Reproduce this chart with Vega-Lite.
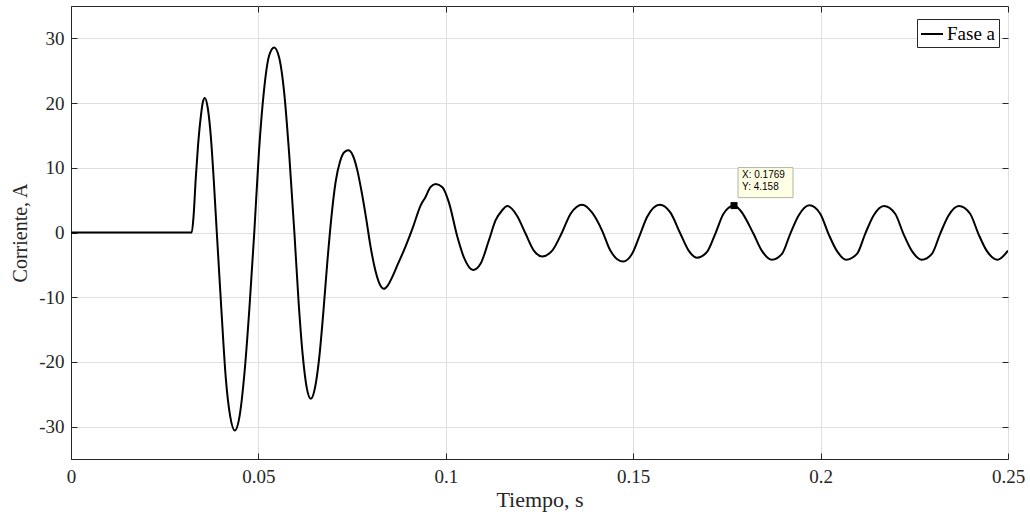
{
  "$schema": "https://vega.github.io/schema/vega-lite/v6.json",
  "width": 937,
  "height": 453,
  "autosize": {"type": "none"},
  "padding": {"left": 71, "top": 6, "right": 22, "bottom": 57},
  "background": "white",
  "config": {
    "font": "Liberation Serif",
    "view": {"stroke": "#262626", "strokeWidth": 1},
    "axis": {
      "domainColor": "#262626",
      "tickColor": "#262626",
      "labelColor": "#262626",
      "titleColor": "#262626",
      "gridColor": "#dfdfdf",
      "gridOpacity": 1,
      "labelFont": "Liberation Serif",
      "titleFont": "Liberation Serif",
      "labelFontSize": 19,
      "titleFontSize": 20,
      "titleFontWeight": "normal",
      "tickSize": -6
    }
  },
  "datasets": {
    "wave": [
      {"t": 0, "i": 0}, {"t": 0.0322, "i": 0}, {"t": 0.0327, "i": 2.5}, {"t": 0.0333, "i": 8.5},
      {"t": 0.0339, "i": 13.5}, {"t": 0.03465, "i": 18.0}, {"t": 0.0352, "i": 20.2}, {"t": 0.0357, "i": 20.8},
      {"t": 0.0365, "i": 19.2}, {"t": 0.0373, "i": 14.9}, {"t": 0.0381, "i": 8.0}, {"t": 0.0389, "i": 0},
      {"t": 0.0401, "i": -11.7}, {"t": 0.0413, "i": -22.5}, {"t": 0.0425, "i": -28.5}, {"t": 0.0437, "i": -30.6},
      {"t": 0.045, "i": -28.3}, {"t": 0.0463, "i": -21.6}, {"t": 0.0476, "i": -11.7}, {"t": 0.0489, "i": 0},
      {"t": 0.05015, "i": 12.5}, {"t": 0.0515, "i": 22.0}, {"t": 0.05285, "i": 27.3}, {"t": 0.0542, "i": 28.6},
      {"t": 0.05555, "i": 27.0}, {"t": 0.0569, "i": 21.5}, {"t": 0.05825, "i": 11.8}, {"t": 0.0596, "i": 0},
      {"t": 0.0607, "i": -10.5}, {"t": 0.0618, "i": -18.8}, {"t": 0.0629, "i": -24.0}, {"t": 0.064, "i": -25.7},
      {"t": 0.0651, "i": -24.0}, {"t": 0.0662, "i": -19.5}, {"t": 0.0673, "i": -12.5}, {"t": 0.0684, "i": -4.5},
      {"t": 0.0695, "i": 2.5}, {"t": 0.0706, "i": 7.8}, {"t": 0.0718, "i": 11.0}, {"t": 0.0729, "i": 12.4},
      {"t": 0.074, "i": 12.7}, {"t": 0.0752, "i": 11.9}, {"t": 0.0764, "i": 9.6}, {"t": 0.0776, "i": 6.1},
      {"t": 0.0788, "i": 2.0}, {"t": 0.0799, "i": -2.1}, {"t": 0.0811, "i": -5.6}, {"t": 0.0823, "i": -7.9},
      {"t": 0.0835, "i": -8.7},
      {"t": 0.0845, "i": -8.2}, {"t": 0.0857, "i": -6.9}, {"t": 0.0872, "i": -4.9}, {"t": 0.0888, "i": -2.8},
      {"t": 0.0911, "i": 0.6}, {"t": 0.0933, "i": 4.2}, {"t": 0.0946, "i": 5.5}, {"t": 0.0959, "i": 7.0},
      {"t": 0.0973, "i": 7.5}, {"t": 0.0991, "i": 7.0}, {"t": 0.1008, "i": 4.7}, {"t": 0.1031, "i": -0.7},
      {"t": 0.1048, "i": -3.8}, {"t": 0.1073, "i": -5.8}, {"t": 0.1093, "i": -4.8}, {"t": 0.1115, "i": -1.2},
      {"t": 0.1133, "i": 1.9}, {"t": 0.115, "i": 3.4}, {"t": 0.1164, "i": 4.1}, {"t": 0.119, "i": 2.6},
      {"t": 0.1213, "i": -0.2}, {"t": 0.1235, "i": -2.8}, {"t": 0.1257, "i": -3.7}, {"t": 0.1284, "i": -2.8},
      {"t": 0.131, "i": 0.0}, {"t": 0.1333, "i": 2.9}, {"t": 0.1364, "i": 4.3}, {"t": 0.139, "i": 3.1},
      {"t": 0.1417, "i": 0.3}, {"t": 0.1439, "i": -2.8}, {"t": 0.1473, "i": -4.5}, {"t": 0.1497, "i": -3.3},
      {"t": 0.1519, "i": -0.2}, {"t": 0.1537, "i": 2.4}, {"t": 0.1571, "i": 4.3}, {"t": 0.1599, "i": 3.1},
      {"t": 0.1626, "i": -0.2}, {"t": 0.1648, "i": -2.8}, {"t": 0.167, "i": -3.9}, {"t": 0.1697, "i": -3.0},
      {"t": 0.1719, "i": -0.2}, {"t": 0.1741, "i": 2.9}, {"t": 0.1769, "i": 4.158}, {"t": 0.1786, "i": 3.4},
      {"t": 0.1821, "i": -0.2}, {"t": 0.1843, "i": -2.8}, {"t": 0.187, "i": -4.2}, {"t": 0.1897, "i": -3.3},
      {"t": 0.1919, "i": -0.2}, {"t": 0.1941, "i": 2.6}, {"t": 0.197, "i": 4.2}, {"t": 0.1999, "i": 2.9},
      {"t": 0.2021, "i": -0.2}, {"t": 0.2043, "i": -2.8}, {"t": 0.2068, "i": -4.2}, {"t": 0.2097, "i": -3.3},
      {"t": 0.2119, "i": -0.2}, {"t": 0.2141, "i": 2.6}, {"t": 0.2169, "i": 4.1}, {"t": 0.2199, "i": 2.9},
      {"t": 0.2221, "i": -0.2}, {"t": 0.2243, "i": -2.8}, {"t": 0.227, "i": -4.2}, {"t": 0.2297, "i": -3.3},
      {"t": 0.2319, "i": -0.2}, {"t": 0.2341, "i": 2.6}, {"t": 0.2369, "i": 4.1}, {"t": 0.2399, "i": 2.9},
      {"t": 0.2421, "i": -0.2}, {"t": 0.2443, "i": -2.8}, {"t": 0.2472, "i": -4.2}, {"t": 0.25, "i": -2.8}
    ],
    "tip": [
      {"t": 0.1769, "i": 4.158, "label": "X: 0.1769\nY: 4.158"}
    ]
  },
  "layer": [
    {
      "data": {"name": "wave"},
      "mark": {"type": "line", "interpolate": "monotone", "strokeWidth": 2, "clip": true},
      "encoding": {
        "x": {
          "field": "t", "type": "quantitative",
          "scale": {"domain": [0, 0.25], "nice": false, "zero": false},
          "axis": {
            "title": "Tiempo, s",
            "titleFontSize": 22,
            "values": [0, 0.05, 0.1, 0.15, 0.2, 0.25],
            "labelExpr": "'' + datum.value",
            "labelFlush": false,
            "labelOverlap": false,
            "grid": true,
            "labelPadding": 14,
            "titlePadding": 3
          }
        },
        "y": {
          "field": "i", "type": "quantitative",
          "scale": {"domain": [-35, 35], "nice": false, "zero": false},
          "axis": {
            "title": "Corriente, A",
            "values": [-30, -20, -10, 0, 10, 20, 30],
            "labelExpr": "'' + datum.value",
            "labelFlush": false,
            "grid": true,
            "labelPadding": 13,
            "titlePadding": 8
          }
        },
        "color": {
          "datum": "Fase a", "type": "nominal",
          "scale": {"range": ["#000000"]},
          "legend": {
            "orient": "none",
            "legendX": 846,
            "legendY": 13,
            "title": null,
            "symbolType": "stroke",
            "symbolSize": 484,
            "symbolStrokeWidth": 2,
            "labelFont": "Liberation Serif",
            "labelFontSize": 19,
            "labelColor": "#000000",
            "strokeColor": "#262626",
            "fillColor": "white",
            "padding": 3,
            "labelOffset": 3
          }
        }
      }
    },
    {
      "data": {"name": "wave"},
      "mark": {"type": "line", "opacity": 0},
      "encoding": {
        "x": {
          "field": "t", "type": "quantitative",
          "scale": {"domain": [0, 0.25], "nice": false, "zero": false},
          "axis": {"orient": "top", "values": [0, 0.05, 0.1, 0.15, 0.2, 0.25], "labels": false, "grid": false, "domain": false, "title": null}
        },
        "y": {
          "field": "i", "type": "quantitative",
          "scale": {"domain": [-35, 35], "nice": false, "zero": false},
          "axis": {"orient": "right", "values": [-30, -20, -10, 0, 10, 20, 30], "labels": false, "grid": false, "domain": false, "title": null}
        }
      }
    },
    {
      "data": {"name": "tip"},
      "mark": {
        "type": "point",
        "shape": "M0.0727,-0.6909L1.0727,-0.6909L1.0727,-0.1455L0.0727,-0.1455Z",
        "size": 12100,
        "filled": true,
        "fill": "#ffffe6",
        "stroke": "#b4b4a0",
        "strokeWidth": 1,
        "opacity": 1
      },
      "encoding": {
        "x": {"field": "t", "type": "quantitative", "axis": null},
        "y": {"field": "i", "type": "quantitative", "axis": null}
      }
    },
    {
      "data": {"name": "tip"},
      "mark": {
        "type": "text",
        "align": "left",
        "baseline": "top",
        "dx": 8,
        "dy": -36,
        "font": "Liberation Sans",
        "fontSize": 10,
        "lineHeight": 12,
        "lineBreak": "\n",
        "color": "#000000"
      },
      "encoding": {
        "x": {"field": "t", "type": "quantitative", "axis": null},
        "y": {"field": "i", "type": "quantitative", "axis": null},
        "text": {"field": "label"}
      }
    },
    {
      "data": {"name": "tip"},
      "mark": {"type": "point", "shape": "square", "size": 49, "filled": true, "color": "#000000", "opacity": 1},
      "encoding": {
        "x": {"field": "t", "type": "quantitative", "axis": null},
        "y": {"field": "i", "type": "quantitative", "axis": null}
      }
    }
  ],
  "resolve": {"axis": {"x": "independent", "y": "independent"}}
}
